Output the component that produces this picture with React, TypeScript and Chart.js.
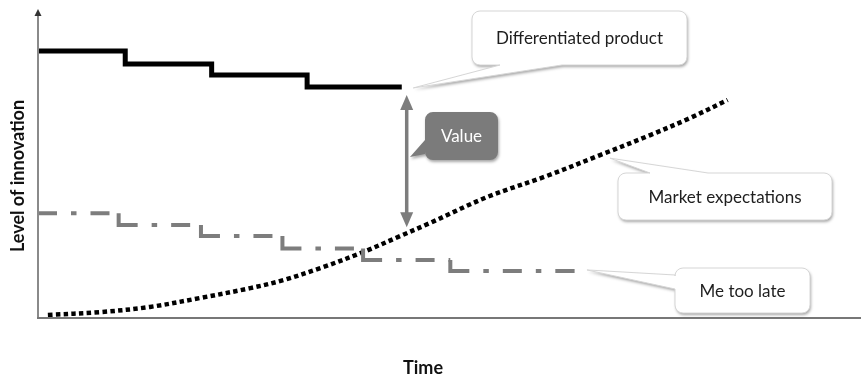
import React, { useEffect, useRef } from "react";
import { Chart, registerables } from "chart.js";

Chart.register(...registerables);

// ---- data (time 0..100, level of innovation 0..100) ----
const diffStepTimes = [0, 10.6, 21.1, 32.7, 44.2];
const diffLevels = [86.7, 82.5, 78.9, 75.0, 75.0];

const meTooStepTimes = [0, 9.8, 19.8, 29.7, 39.5, 50.1];
const meTooLevels = [34.0, 30.2, 26.6, 22.6, 18.8, 15.3];
const meTooEndTime = 65.2;

const marketTimes = [1.2, 7.5, 13.6, 19.7, 25.8, 29.8, 34.3, 39.5, 44.0, 47.6, 54.6, 61.8, 68.3, 74.4, 79.2, 83.8];
const marketLevels = [1.0, 1.9, 3.6, 6.5, 9.7, 12.3, 16.2, 21.4, 26.6, 30.8, 39.3, 46.1, 52.9, 59.4, 64.9, 70.8];

const valueArrowTime = 44.8;
const valueArrowLevels = [72.4, 29.5];

const seriesNames = ["Differentiated product", "Me too late", "Market expectations"];
const valueLabel = "Value";
const xTitle = "Time";
const yTitle = "Level of innovation";

// callout anchors (data units) for each label
const calloutTipTimes = [45.6, 69.5, 66.7, 45.2];
const calloutTipLevels = [74.7, 51.9, 15.6, 52.3];

// ---- layout / styles ----
const FONT = "Lato, 'Open Sans', sans-serif";
const GRAY = "#7d7d7d";

type Wedge = { side: "top" | "bottom" | "left"; a: number; b: number };
type Callout = {
  text: string;
  box: [number, number, number, number];
  wedge: Wedge;
  dark?: boolean;
  tipIdx: number;
};

const callouts: Callout[] = [
  { text: seriesNames[0], box: [472, 11, 215, 54], wedge: { side: "bottom", a: 500, b: 562 }, tipIdx: 0 },
  { text: seriesNames[2], box: [618, 173, 214, 47], wedge: { side: "top", a: 650, b: 708 }, tipIdx: 1 },
  { text: seriesNames[1], box: [675, 268, 135, 45], wedge: { side: "left", a: 275, b: 289 }, tipIdx: 2 },
  { text: valueLabel, box: [425, 112, 73, 48], wedge: { side: "left", a: 140, b: 154 }, dark: true, tipIdx: 3 },
];

function calloutPath(
  ctx: CanvasRenderingContext2D,
  box: [number, number, number, number],
  r: number,
  w: Wedge,
  tx: number,
  ty: number
) {
  const [x, y, bw, bh] = box;
  ctx.beginPath();
  ctx.moveTo(x + r, y);
  if (w.side === "top") {
    ctx.lineTo(w.a, y);
    ctx.lineTo(tx, ty);
    ctx.lineTo(w.b, y);
  }
  ctx.lineTo(x + bw - r, y);
  ctx.arcTo(x + bw, y, x + bw, y + r, r);
  ctx.lineTo(x + bw, y + bh - r);
  ctx.arcTo(x + bw, y + bh, x + bw - r, y + bh, r);
  if (w.side === "bottom") {
    ctx.lineTo(w.b, y + bh);
    ctx.lineTo(tx, ty);
    ctx.lineTo(w.a, y + bh);
  }
  ctx.lineTo(x + r, y + bh);
  ctx.arcTo(x, y + bh, x, y + bh - r, r);
  if (w.side === "left") {
    ctx.lineTo(x, w.b);
    ctx.lineTo(tx, ty);
    ctx.lineTo(x, w.a);
  }
  ctx.lineTo(x, y + r);
  ctx.arcTo(x, y, x + r, y, r);
  ctx.closePath();
}

const diagramPlugin = {
  id: "diagram",
  afterDatasetsDraw(chart: any) {
    const { ctx, chartArea, scales } = chart;
    const xs = scales.x;
    const ys = scales.y;
    ctx.save();

    // axes
    ctx.strokeStyle = "#8a8a8a";
    ctx.lineWidth = 2;
    ctx.beginPath();
    ctx.moveTo(chartArea.left, chartArea.bottom);
    ctx.lineTo(chartArea.left, chartArea.top + 5);
    ctx.stroke();
    ctx.fillStyle = "#333";
    ctx.beginPath();
    ctx.moveTo(chartArea.left, chartArea.top - 1);
    ctx.lineTo(chartArea.left - 3.5, chartArea.top + 6);
    ctx.lineTo(chartArea.left + 3.5, chartArea.top + 6);
    ctx.closePath();
    ctx.fill();
    ctx.strokeStyle = "#777";
    ctx.lineWidth = 2;
    ctx.beginPath();
    ctx.moveTo(chartArea.left - 1, chartArea.bottom);
    ctx.lineTo(chart.width, chartArea.bottom);
    ctx.stroke();

    // axis titles
    ctx.fillStyle = "#111";
    ctx.font = `bold 18px ${FONT}`;
    ctx.textAlign = "center";
    ctx.textBaseline = "middle";
    ctx.fillText(xTitle, 423, 368);
    ctx.save();
    ctx.translate(18, 176);
    ctx.rotate(-Math.PI / 2);
    ctx.fillText(yTitle, 0, 0);
    ctx.restore();

    // value arrow
    const ax = xs.getPixelForValue(valueArrowTime);
    const ay1 = ys.getPixelForValue(valueArrowLevels[0]);
    const ay2 = ys.getPixelForValue(valueArrowLevels[1]);
    const headL = 15;
    const headW = 6.5;
    ctx.strokeStyle = GRAY;
    ctx.fillStyle = GRAY;
    ctx.lineWidth = 3.5;
    ctx.beginPath();
    ctx.moveTo(ax, ay1 + headL - 2);
    ctx.lineTo(ax, ay2 - headL + 2);
    ctx.stroke();
    ctx.beginPath();
    ctx.moveTo(ax, ay1);
    ctx.lineTo(ax - headW, ay1 + headL);
    ctx.lineTo(ax + headW, ay1 + headL);
    ctx.closePath();
    ctx.fill();
    ctx.beginPath();
    ctx.moveTo(ax, ay2);
    ctx.lineTo(ax - headW, ay2 - headL);
    ctx.lineTo(ax + headW, ay2 - headL);
    ctx.closePath();
    ctx.fill();

    // callouts
    for (const c of callouts) {
      const tx = xs.getPixelForValue(calloutTipTimes[c.tipIdx]);
      const ty = ys.getPixelForValue(calloutTipLevels[c.tipIdx]);
      ctx.save();
      calloutPath(ctx, c.box, 8, c.wedge, tx, ty);
      ctx.shadowColor = "rgba(0,0,0,0.35)";
      ctx.shadowBlur = 3;
      ctx.shadowOffsetX = 1;
      ctx.shadowOffsetY = 2;
      ctx.fillStyle = c.dark ? "#7b7b7b" : "#ffffff";
      ctx.fill();
      ctx.restore();
      if (!c.dark) {
        calloutPath(ctx, c.box, 8, c.wedge, tx, ty);
        ctx.strokeStyle = "#d6d6d6";
        ctx.lineWidth = 1;
        ctx.stroke();
      }
      ctx.fillStyle = c.dark ? "#ffffff" : "#1e1e1e";
      ctx.font = `17px ${FONT}`;
      ctx.textAlign = "center";
      ctx.textBaseline = "middle";
      ctx.fillText(c.text, c.box[0] + c.box[2] / 2, c.box[1] + c.box[3] / 2 + 1);
    }
    ctx.restore();
  },
};

export default function App() {
  const ref = useRef<HTMLCanvasElement | null>(null);

  useEffect(() => {
    if (!ref.current) return;

    const diffData = diffStepTimes.map((t, i) => ({ x: t, y: diffLevels[i] }));

    // each point = (time of step, level before the step) so every segment is
    // "drop, then run" and its dash pattern restarts at the corner
    const meTooData = meTooStepTimes.map((t, i) => ({ x: t, y: meTooLevels[Math.max(0, i - 1)] }));
    meTooData.push({ x: meTooEndTime, y: meTooLevels[meTooLevels.length - 1] });

    const marketData = marketTimes.map((t, i) => ({ x: t, y: marketLevels[i] }));

    const chart = new Chart(ref.current, {
      type: "line",
      data: {
        datasets: [
          {
            label: seriesNames[0],
            data: diffData,
            borderColor: "#000",
            borderWidth: 5,
            stepped: "before",
            pointRadius: 0,
            clip: false,
          } as any,
          {
            label: seriesNames[1],
            data: meTooData,
            borderColor: GRAY,
            borderWidth: 4,
            stepped: "after",
            pointRadius: 0,
            clip: false,
            segment: {
              borderDash: (c: any) => {
                const v = Math.abs(c.p1.y - c.p0.y);
                return [v + 19, 14, 5.5, 14, 19, 14, 5.5, 14];
              },
              borderDashOffset: (c: any) => c.p0DataIndex * 1e-6,
            },
          } as any,
          {
            label: seriesNames[2],
            data: marketData,
            borderColor: "#000",
            borderWidth: 4.5,
            borderDash: [4.5, 3.3],
            tension: 0.35,
            pointRadius: 0,
            clip: false,
          } as any,
        ],
      },
      options: {
        responsive: false,
        animation: false,
        events: [],
        layout: { padding: { left: 38, top: 10, right: 0, bottom: 58 } },
        plugins: {
          legend: { display: false },
          tooltip: { enabled: false },
          title: { display: false },
        },
        scales: {
          x: { type: "linear", min: 0, max: 100, display: false },
          y: { type: "linear", min: 0, max: 100, display: false },
        },
      },
      plugins: [diagramPlugin],
    });

    return () => chart.destroy();
  }, []);

  return (
    <div style={{ position: "fixed", left: 0, top: 0, width: 861, height: 376, background: "#fff" }}>
      <canvas ref={ref} width={861} height={376} style={{ display: "block" }} />
    </div>
  );
}
